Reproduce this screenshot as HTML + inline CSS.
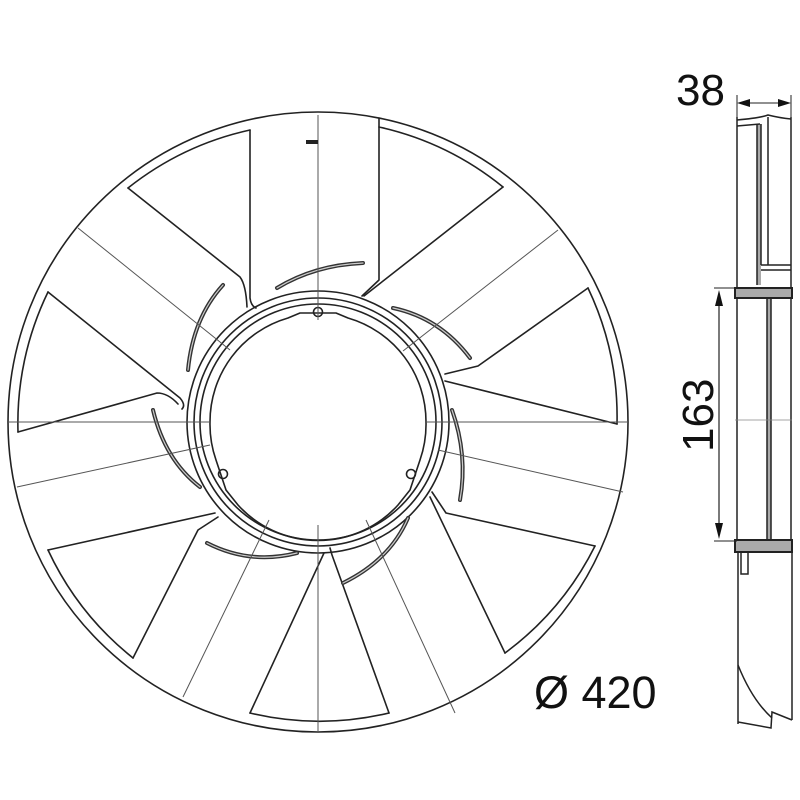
<!DOCTYPE html>
<html><head><meta charset="utf-8"><style>
html,body{margin:0;padding:0;background:#fff;width:800px;height:800px;overflow:hidden}
svg{display:block}
text{font-family:"Liberation Sans",Arial,sans-serif;fill:#111}
</style></head><body>
<svg width="800" height="800" viewBox="0 0 800 800" xmlns="http://www.w3.org/2000/svg">
<g fill="none" stroke="#222" stroke-width="1.6" stroke-linecap="round" stroke-linejoin="round">
<circle cx="318" cy="422" r="310"/>
<path d="M128,188 A300,300 0 0 1 250,130"/>
<path d="M18,432 A300,300 0 0 1 48,292"/>
<path d="M379,127 A300,300 0 0 1 503,187"/>
<path d="M588,288 A300,300 0 0 1 617,424"/>
<path d="M595,546 A300,300 0 0 1 505,653"/>
<path d="M389,713 A300,300 0 0 1 250,713"/>
<path d="M133,658 A300,300 0 0 1 48,550"/>
<path d="M250,130 L250,298 Q251,306 256,308"/>
<path d="M128,188 L240,277 Q246,285 247,307"/>
<path d="M48,292 L180,398 Q186,405 182,409"/>
<path d="M18,432 L157,393 Q168,393 178,404"/>
<path d="M379,118 L379,280 L362,296"/>
<path d="M503,187 L364,296"/>
<path d="M588,288 L478,366 L445,374"/>
<path d="M617,424 L445,381"/>
<path d="M595,546 L446,513 L432,492"/>
<path d="M505,653 L430,497"/>
<path d="M389,713 L332,555 L330,548"/>
<path d="M250,713 L324,553"/>
<path d="M133,658 L198,530 L218,517"/>
<path d="M48,550 L215,513"/>
<circle cx="318" cy="422" r="131"/>
<circle cx="318" cy="422" r="124"/>
<circle cx="318" cy="422" r="118"/>
<path d="M210,422 A108,108 0 0 1 288,318 L300,313 L336,313 L348,318 A108,108 0 0 1 426,422 A108,108 0 0 1 420,460 L410,490 L398,505 A108,108 0 0 1 238,505 L226,490 L216,460 A108,108 0 0 1 210,422 Z"/>
<circle cx="318" cy="312" r="4.5"/>
<circle cx="223" cy="474" r="4.5"/>
<circle cx="411" cy="474" r="4.5"/>
</g>
<g fill="none" stroke="#333" stroke-width="4" stroke-linecap="round">
<path d="M277,288 Q315,265 363,263"/>
<path d="M223,285 Q193,318 188,370"/>
<path d="M153,410 Q165,460 200,487"/>
<path d="M207,543 Q250,565 297,553"/>
<path d="M343,583 Q390,560 408,518"/>
<path d="M452,410 Q468,455 460,500"/>
<path d="M393,308 Q440,318 470,358"/>
</g>
<g fill="none" stroke="#ccc" stroke-width="1.2" stroke-linecap="round">
<path d="M277,288 Q315,265 363,263"/>
<path d="M223,285 Q193,318 188,370"/>
<path d="M153,410 Q165,460 200,487"/>
<path d="M207,543 Q250,565 297,553"/>
<path d="M343,583 Q390,560 408,518"/>
<path d="M452,410 Q468,455 460,500"/>
<path d="M393,308 Q440,318 470,358"/>
</g>
<g fill="none" stroke="#555" stroke-width="1">
<path d="M78,228 L230,350"/>
<path d="M558,230 L403,351"/>
<path d="M438,450 L623,492"/>
<path d="M366,520 L455,713"/>
<path d="M269,520 L183,697"/>
<path d="M17,487 L210,445"/>
<path d="M318,115 L318,320"/>
<path d="M318,525 L318,732"/>
<path d="M8,422 L210,422"/>
<path d="M426,422 L628,422"/>
</g>
<rect x="306" y="140" width="12" height="4" fill="#222"/>
<g fill="#aaa">
<rect x="757" y="124" width="4" height="161"/>
<rect x="736" y="289" width="55" height="8"/>
<rect x="736" y="541" width="55" height="10"/>
<rect x="767" y="298" width="4" height="242"/>
</g>
<g fill="none" stroke="#222" stroke-width="1.5">
<path d="M737,117 L737,288"/>
<path d="M791,117 L791,288"/>
<path d="M737,120 Q760,118 768,115 Q780,118 791,119"/>
<path d="M737,126 L760,124"/>
<path d="M757,124 L757,285"/>
<path d="M761,124 L761,265"/>
<path d="M768,117 L768,265"/>
<path d="M761,265 L791,265 M761,270 L791,270"/>
<path d="M735,288 L792,288 L792,298 L735,298 Z" stroke-width="2"/>
<path d="M737,298 L737,540"/>
<path d="M767,298 L767,540"/>
<path d="M771,298 L771,540"/>
<path d="M791,298 L791,540"/>
<path d="M735,420 L792,420" stroke="#888" stroke-width="0.8"/>
<path d="M735,540 L792,540 L792,552 L735,552 Z" stroke-width="2"/>
<path d="M741,552 L741,574 L748,574 L748,552"/>
<path d="M738,552 L738,724"/>
<path d="M792,552 L792,720"/>
<path d="M738,665 Q752,700 772,718"/>
<path d="M738,722 L771,728 L772,712 L792,720"/>
<path d="M737,95 L737,117 M791,95 L791,117" stroke-width="1"/>
<path d="M740,103 L788,103" stroke-width="1"/>
<path d="M714,288 L737,288 M714,541 L737,541" stroke-width="1"/>
<path d="M719,300 L719,530" stroke-width="1.2"/>
</g>
<g fill="#111">
<path d="M737,103 L750,99 L750,107 Z"/>
<path d="M791,103 L778,99 L778,107 Z"/>
<path d="M719,290 L715,306 L723,306 Z"/>
<path d="M719,539 L715,523 L723,523 Z"/>
</g>
<text x="676" y="105" font-size="44">38</text>
<text x="0" y="0" font-size="44" transform="translate(713,452) rotate(-90)">163</text>
<text x="534" y="708" font-size="45">Ø 420</text>
</svg>
</body></html>
